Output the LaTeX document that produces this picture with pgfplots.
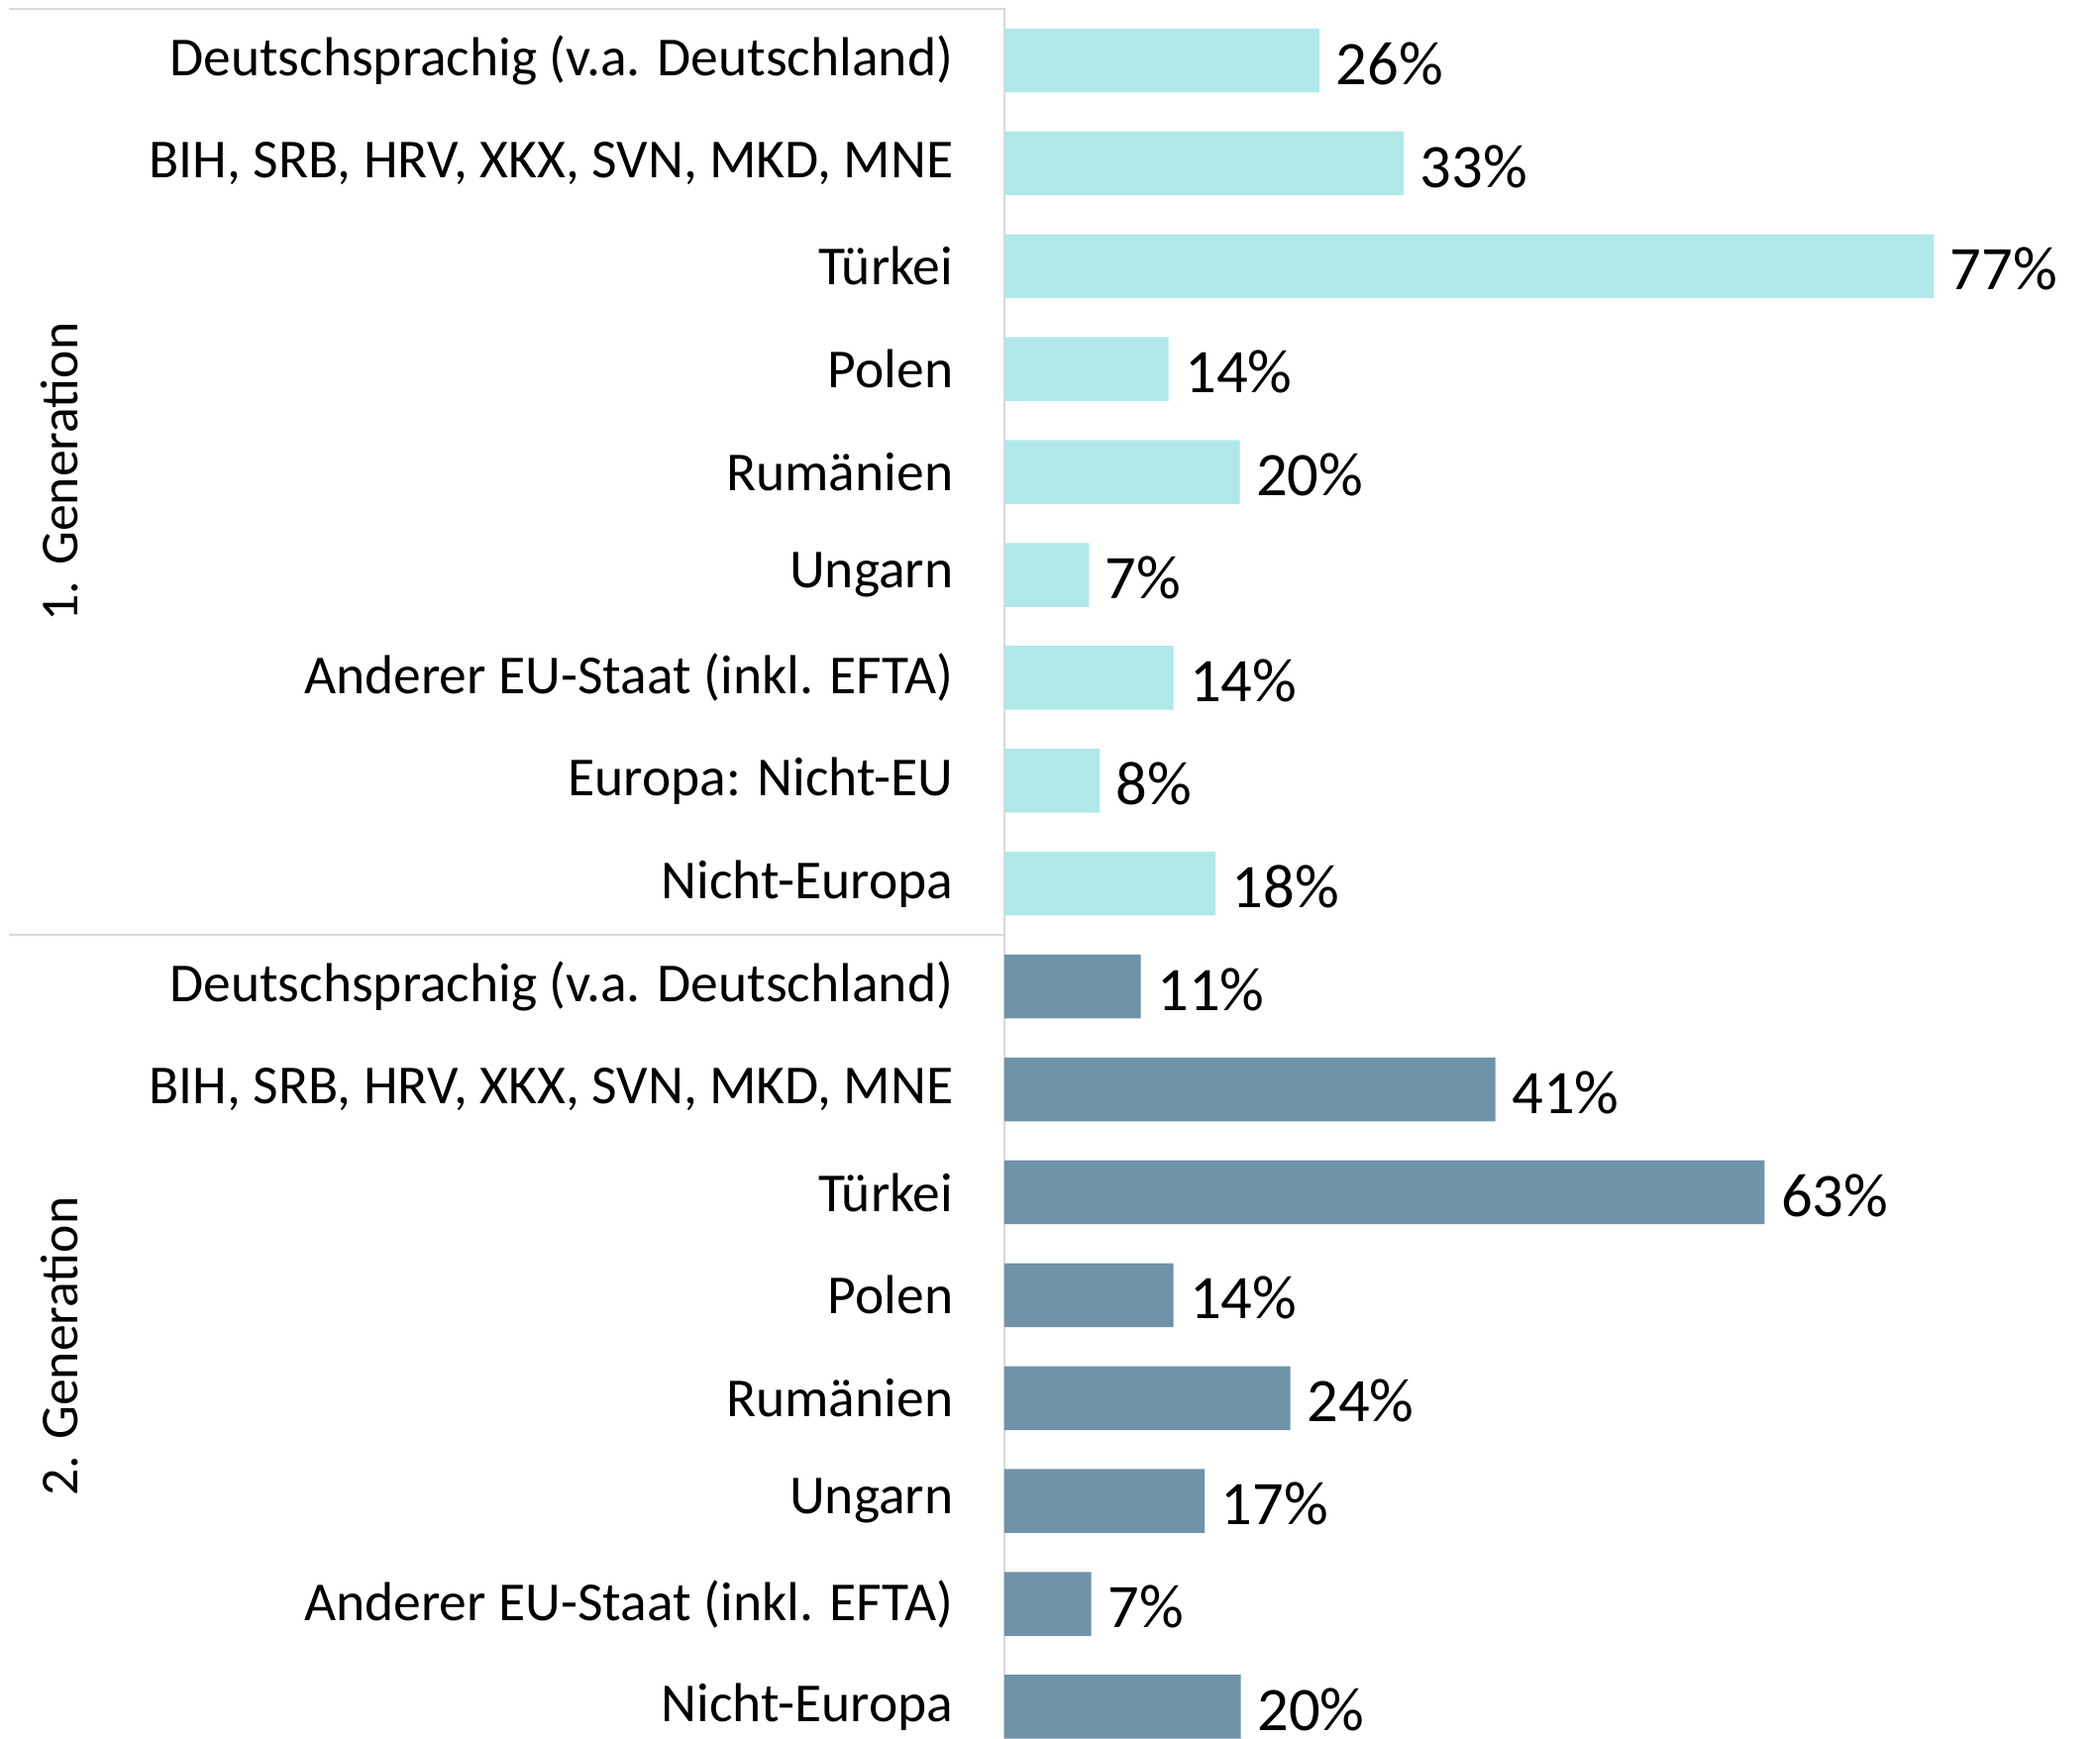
\documentclass[border=0pt]{standalone}
\usepackage{fontspec}
\setmainfont{Carlito}
\usepackage{pgfplots}
\pgfplotsset{compat=1.18}
\definecolor{gen1}{HTML}{B0E8EA}
\definecolor{gen2}{HTML}{6F93A8}
\definecolor{linegray}{HTML}{D9D9D9}
\begin{document}
\begin{tikzpicture}
\clip (-101.4mm,-169.4mm) rectangle (110.6mm,6.1mm);
\begin{axis}[
 anchor=origin, at={(0,0)},
 x=1.218mm, y=10.39mm, y dir=reverse,
 xmin=0, xmax=90, ymin=-0.5, ymax=16.8,
 axis line style={draw=none},
 xtick=\empty,
 ytick={0,...,16},
 yticklabels={{Deutschsprachig (v.a. Deutschland)},{BIH, SRB, HRV, XKX, SVN, MKD, MNE},{Türkei},{Polen},{Rumänien},{Ungarn},{Anderer EU-Staat (inkl. EFTA)},{Europa: Nicht-EU},{Nicht-Europa},
   {Deutschsprachig (v.a. Deutschland)},{BIH, SRB, HRV, XKX, SVN, MKD, MNE},{Türkei},{Polen},{Rumänien},{Ungarn},{Anderer EU-Staat (inkl. EFTA)},{Nicht-Europa}},
 major tick length=0pt,
 tick style={draw=none},
 clip=false,
 xbar, bar width=6.45mm, bar shift=0pt,
 point meta=explicit symbolic,
 nodes near coords={\pgfplotspointmeta},
 nodes near coords style={font=\fontsize{17.8}{20}\selectfont, anchor=west, inner sep=0pt, xshift=1.6mm, yshift=-0.3mm},
 yticklabel style={font=\fontsize{15.8}{18}\selectfont, anchor=east, inner sep=0pt, xshift=-5.1mm},
]
\draw[linegray, line width=0.25mm] (axis cs:-82.5,-0.5) -- (axis cs:0,-0.5) -- (axis cs:0,17);
\draw[linegray, line width=0.25mm] (axis cs:-82.5,8.5) -- (axis cs:0,8.5);
\addplot[fill=gen1, draw=none] coordinates {(26.1,0) [26\%] (33.1,1) [33\%] (77,2) [77\%] (13.6,3) [14\%] (19.5,4) [20\%] (7.0,5) [7\%] (14.0,6) [14\%] (7.9,7) [8\%] (17.5,8) [18\%]};
\addplot[fill=gen2, draw=none] coordinates {(11.3,9) [11\%] (40.7,10) [41\%] (63.0,11) [63\%] (14.0,12) [14\%] (23.7,13) [24\%] (16.6,14) [17\%] (7.2,15) [7\%] (19.6,16) [20\%]};
\node[rotate=90, font=\fontsize{15.3}{18}\selectfont] at (axis cs:-78.3,4) {1. Generation};
\node[rotate=90, font=\fontsize{15.3}{18}\selectfont] at (axis cs:-78.3,12.5) {2. Generation};
\end{axis}
\end{tikzpicture}
\end{document}
